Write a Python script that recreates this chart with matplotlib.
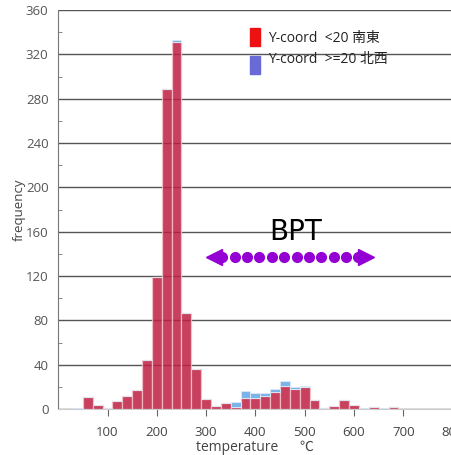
import numpy as np
import matplotlib.pyplot as plt
from matplotlib.patches import Rectangle

# histogram bins (left edges, width 20 degC)
bin_left = np.arange(30, 690, 20)
red_counts = [0, 11, 4, 1, 7, 12, 17, 44, 119, 289,
              331, 87, 36, 9, 3, 5, 2, 10, 10, 12,
              15, 21, 18, 20, 8, 1, 3, 8, 4, 0,
              2, 0, 2]
blue_counts = [1, 0, 0, 0, 0, 0, 0, 0, 0, 0,
               2, 0, 0, 0, 0, 0, 4, 6, 4, 2,
               3, 4, 2, 1, 0, 0, 0, 0, 0, 1,
               0, 1, 0]
bin_width = 20

legend_labels = ["Y-coord  <20 南東", "Y-coord  >=20 北西"]
bpt_range = [306, 636]
bpt_level = 137

x_ticks = [100, 200, 300, 400, 500, 600, 700, 800]
y_ticks = list(range(0, 361, 40))

FONTS = ["Open Sans", "Noto Sans CJK JP", "DejaVu Sans"]
plt.rcParams["font.family"] = FONTS

W, H = 451, 455
fig = plt.figure(figsize=(W / 100, H / 100), dpi=100)
ax = fig.add_axes([58.2 / W, 46 / H, 394.4 / W, 399 / H])

red = np.array(red_counts, float)
blue = np.array(blue_counts, float)
centers = bin_left + bin_width / 2

ax.bar(centers, red, width=bin_width, color=(190 / 255, 32 / 255, 67 / 255),
       alpha=0.85, edgecolor="#f6c2cc", linewidth=0.9, zorder=2)
ax.bar(centers, blue, bottom=red, width=bin_width, color="#7ab4e8",
       edgecolor="#dcecf8", linewidth=0.6, zorder=2)

ax.set_xlim(0, 800)
ax.set_ylim(0, 360)
ax.set_yticks(y_ticks)
ax.set_yticks(range(20, 360, 40), minor=True)
ax.set_xticks(x_ticks)
ax.yaxis.grid(True, color="#555555", linewidth=1.0, zorder=0)
ax.set_axisbelow(True)

for s in ["top", "right"]:
    ax.spines[s].set_visible(False)
ax.spines["left"].set_color("#777777")
ax.spines["bottom"].set_color("#cccccc")
ax.tick_params(axis="y", which="major", length=0, labelsize=9.5,
               labelcolor="#555555", pad=7)
ax.tick_params(axis="y", which="minor", direction="in", length=3,
               color="#777777")
ax.tick_params(axis="x", direction="out", length=5, color="#666666",
               labelsize=9.5, labelcolor="#444444", pad=7)

ax.set_ylabel("frequency", fontsize=9.5, color="#444444")
ax.yaxis.set_label_coords(-0.082, 0.5)
ax.set_xlabel("temperature      ℃", fontsize=10, color="#444444")
ax.xaxis.set_label_coords(0.5, -0.078)

# BPT double arrow made of dots
dots_x = np.linspace(bpt_range[0] + 27, bpt_range[1] - 27, 12)
ax.plot(dots_x, [bpt_level] * len(dots_x), "o", color="#9400d3",
        markersize=7, zorder=4)
ax.plot([bpt_range[0] + 11], [bpt_level], "<", color="#9400d3",
        markersize=11, zorder=4)
ax.plot([bpt_range[1] - 11], [bpt_level], ">", color="#9400d3",
        markersize=11, zorder=4)
ax.text(482, 160, "BPT", fontsize=20, ha="center", va="center",
        color="black", family="DejaVu Sans", zorder=5)

# custom legend
fig.patches.append(Rectangle((250 / W, 1 - 46 / H), 10 / W, 18 / H,
                             transform=fig.transFigure, color="#ee1111"))
fig.patches.append(Rectangle((250 / W, 1 - 74 / H), 10 / W, 18 / H,
                             transform=fig.transFigure, color="#6a6ad6"))
fig.text(268 / W, 1 - 38 / H, legend_labels[0], fontsize=10,
         va="center", ha="left", color="#222222")
fig.text(268 / W, 1 - 59 / H, legend_labels[1], fontsize=10,
         va="center", ha="left", color="#222222")

fig.savefig("out.png", dpi=100)
